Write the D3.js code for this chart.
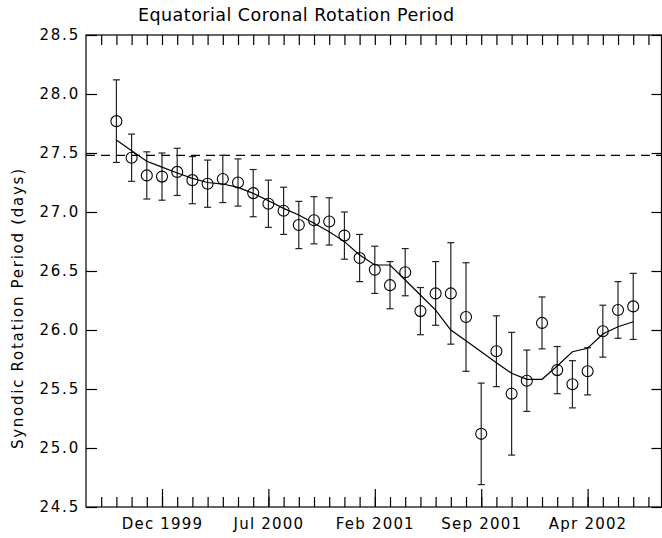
<!DOCTYPE html>
<html>
<head>
<meta charset="utf-8">
<script src="https://cdn.jsdelivr.net/npm/d3@7"></script>
<style>
  html, body { margin: 0; padding: 0; background: #fff; }
  svg text { font-family: "DejaVu Sans", sans-serif; font-weight: 400; fill: #000; }
</style>
</head>
<body>
<svg id="chart" width="662" height="538"></svg>
<script>
// Month index (0 = Jul 1999) of each measurement
const months = [2, 3, 4, 5, 6, 7, 8, 9, 10, 11, 12, 13, 14, 15, 16, 17, 18, 19,
                20, 21, 22, 23, 24, 25, 26, 27, 28, 29, 30, 31, 32, 33, 34, 35, 36];
// Synodic rotation period (days)
const periods = [27.77, 27.46, 27.31, 27.30, 27.34, 27.27, 27.24, 27.28, 27.25, 27.16,
                 27.07, 27.01, 26.89, 26.93, 26.92, 26.80, 26.61, 26.51, 26.38, 26.49,
                 26.16, 26.31, 26.31, 26.11, 25.12, 25.82, 25.46, 25.57, 26.06, 25.66,
                 25.54, 25.65, 25.99, 26.17, 26.20];
// Error (half length of error bars, days)
const errors = [0.35, 0.20, 0.20, 0.20, 0.20, 0.20, 0.20, 0.20, 0.20, 0.20,
                0.20, 0.20, 0.20, 0.20, 0.20, 0.20, 0.20, 0.20, 0.20, 0.20,
                0.20, 0.27, 0.43, 0.46, 0.43, 0.30, 0.52, 0.26, 0.22, 0.20,
                0.20, 0.20, 0.22, 0.24, 0.28];
// Smoothed curve
const smooth = [27.61, 27.52, 27.43, 27.38, 27.33, 27.285, 27.25, 27.237, 27.209, 27.158,
                27.096, 27.031, 26.975, 26.904, 26.833, 26.749, 26.636, 26.551, 26.551, 26.424,
                26.297, 26.169, 26.00, 25.909, 25.816, 25.723, 25.633, 25.582, 25.582, 25.695,
                25.816, 25.845, 25.966, 26.028, 26.07];
// Reference value (dashed line)
const referencePeriod = 27.48;
// X axis labelled ticks
const majorTickMonths = [5, 12, 19, 26, 33];
const majorTickLabels = ["Dec 1999", "Jul 2000", "Feb 2001", "Sep 2001", "Apr 2002"];
const minorTickMonths = [1, 2, 3, 4, 5, 6, 7, 8, 9, 10, 11, 12, 13, 14, 15, 16, 17, 18, 19,
                         20, 21, 22, 23, 24, 25, 26, 27, 28, 29, 30, 31, 32, 33, 34, 35, 36, 37];
// Y axis ticks
const yTicks = [24.5, 25.0, 25.5, 26.0, 26.5, 27.0, 27.5, 28.0, 28.5];

const svg = d3.select("#chart");
const L = 86, R = 661.5, T = 35, B = 507;
const x = d3.scaleLinear().domain([0, 37.86]).range([L, R]);
const y = d3.scaleLinear().domain([24.5, 28.5]).range([B, T]);

const g = svg.append("g");

// Frame
g.append("rect").attr("x", L).attr("y", T).attr("width", R - L).attr("height", B - T)
  .attr("fill", "none").attr("stroke", "#000").attr("stroke-width", 1.2);

// Bottom axis
const axBottom = g.append("g").attr("transform", `translate(0,${B})`)
  .call(d3.axisBottom(x).tickValues(minorTickMonths).tickSizeInner(-10).tickSizeOuter(0).tickFormat(""));
axBottom.select(".domain").remove();
const axBottomMajor = g.append("g").attr("transform", `translate(0,${B})`)
  .call(d3.axisBottom(x).tickValues(majorTickMonths).tickSizeInner(-18).tickSizeOuter(0)
    .tickPadding(22).tickFormat((d, i) => majorTickLabels[i]));
axBottomMajor.select(".domain").remove();
axBottomMajor.selectAll("text").attr("font-size", 15).attr("letter-spacing", 1.2)
  .attr("font-family", "DejaVu Sans").attr("font-weight", 400).attr("dy", 0);

// Top axis
const axTop = g.append("g").attr("transform", `translate(0,${T})`)
  .call(d3.axisTop(x).tickValues(minorTickMonths).tickSizeInner(-10).tickSizeOuter(0).tickFormat(""));
axTop.select(".domain").remove();

// Left axis
const axLeft = g.append("g").attr("transform", `translate(${L},0)`)
  .call(d3.axisLeft(y).tickValues(yTicks).tickSizeInner(-11).tickSizeOuter(0).tickPadding(6)
    .tickFormat(d3.format(".1f")));
axLeft.select(".domain").remove();
axLeft.selectAll("text").attr("font-size", 15).attr("letter-spacing", 1.8)
  .attr("font-family", "DejaVu Sans").attr("font-weight", 400).attr("dy", "0.33em");

// Right axis
const axRight = g.append("g").attr("transform", `translate(${R},0)`)
  .call(d3.axisRight(y).tickValues(yTicks).tickSizeInner(-10).tickSizeOuter(0).tickFormat(""));
axRight.select(".domain").remove();

svg.selectAll(".tick line").attr("stroke", "#000").attr("stroke-width", 1.2);

// Dashed reference line
g.append("line").attr("x1", L).attr("x2", R)
  .attr("y1", y(referencePeriod)).attr("y2", y(referencePeriod))
  .attr("stroke", "#000").attr("stroke-width", 1.1).attr("stroke-dasharray", "9,6");

// Data
const data = months.map((m, i) => ({ m, v: periods[i], e: errors[i], s: smooth[i] }));

// Error bars
const eb = g.append("g").attr("stroke", "#222").attr("stroke-width", 1.2);
eb.selectAll("line.v").data(data).join("line").attr("class", "v")
  .attr("x1", d => x(d.m)).attr("x2", d => x(d.m))
  .attr("y1", d => y(d.v + d.e)).attr("y2", d => y(d.v - d.e));
eb.selectAll("line.t").data(data).join("line").attr("class", "t")
  .attr("x1", d => x(d.m) - 3.5).attr("x2", d => x(d.m) + 3.5)
  .attr("y1", d => y(d.v + d.e)).attr("y2", d => y(d.v + d.e));
eb.selectAll("line.b").data(data).join("line").attr("class", "b")
  .attr("x1", d => x(d.m) - 3.5).attr("x2", d => x(d.m) + 3.5)
  .attr("y1", d => y(d.v - d.e)).attr("y2", d => y(d.v - d.e));

// Smooth curve
g.append("path").datum(data)
  .attr("d", d3.line().x(d => x(d.m)).y(d => y(d.s)))
  .attr("fill", "none").attr("stroke", "#000").attr("stroke-width", 1.2);

// Circles
g.append("g").selectAll("circle").data(data).join("circle")
  .attr("cx", d => x(d.m)).attr("cy", d => y(d.v)).attr("r", 5.5)
  .attr("fill", "none").attr("stroke", "#000").attr("stroke-width", 1.1);

// Title
svg.append("text").attr("x", 296).attr("y", 21).attr("text-anchor", "middle")
  .attr("font-size", 17.5).attr("textLength", 316).attr("lengthAdjust", "spacing")
  .text("Equatorial Coronal Rotation Period");

// Y label
svg.append("text").attr("transform", "translate(23,309) rotate(-90)")
  .attr("text-anchor", "middle").attr("font-size", 15)
  .attr("textLength", 280).attr("lengthAdjust", "spacing")
  .text("Synodic Rotation Period (days)");
</script>
</body>
</html>
